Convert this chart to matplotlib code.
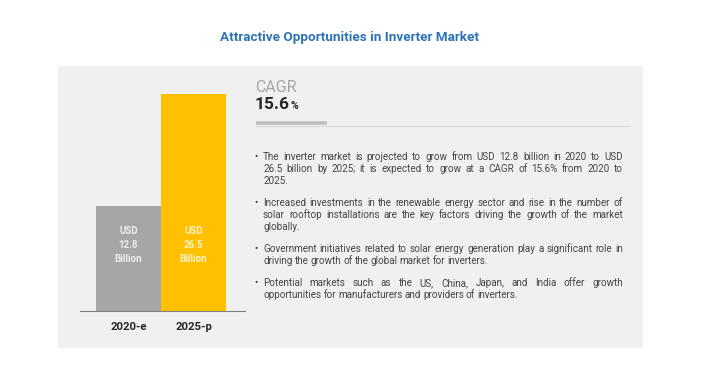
import matplotlib
matplotlib.use("Agg")
import matplotlib.pyplot as plt
from matplotlib.patches import Rectangle

# ---- data ----
categories = ["2020-e", "2025-p"]
values = [12.8, 26.5]
bar_colors = ["#a6a6a6", "#ffc000"]
bar_text_colors = ["#ececec", "#fff2cc"]
title = "Attractive Opportunities in Inverter Market"
cagr_label = "CAGR"
cagr_value = "15.6"
bullets = [
    ["The inverter market is projected to grow from USD 12.8 billion in 2020 to USD",
     "26.5 billion by 2025; it is expected to grow at a CAGR of 15.6% from 2020 to",
     "2025."],
    ["Increased investments in the renewable energy sector and rise in the number of",
     "solar rooftop installations are the key factors driving the growth of the market",
     "globally."],
    ["Government initiatives related to solar energy generation play a significant role in",
     "driving the growth of the global market for inverters."],
    ["Potential markets such as the US, China, Japan, and India offer growth",
     "opportunities for manufacturers and providers of inverters."],
]

W, H = 720, 390
fig = plt.figure(figsize=(W / 100, H / 100), dpi=100)
fig.patch.set_facecolor("white")

ov = fig.add_axes([0, 0, 1, 1])
ov.set_xlim(0, W)
ov.set_ylim(H, 0)
ov.axis("off")
ov.add_patch(Rectangle((58, 66), 585, 282, facecolor="#f0f0f0", edgecolor="none", zorder=0))

fig.canvas.draw()
r = fig.canvas.get_renderer()

ov.text(350, 38, title, ha="center", va="center", fontsize=9.7, fontweight="bold",
        color="#2e74b5", family="Roboto")

# CAGR block
ov.text(255, 88, cagr_label, ha="left", va="center", fontsize=11.5, color="#a6a6a6",
        family="Roboto")
t = ov.text(255, 109, cagr_value, ha="left", va="baseline", fontsize=12.5, fontweight="bold",
            color="#262626", family="Roboto")
bb = t.get_window_extent(r)
ov.text(bb.x1 + 0.5, 109, "%", ha="left", va="baseline", fontsize=7.5, fontweight="bold",
        color="#262626", family="Roboto")
ov.plot([256, 630], [126, 126], color="#d9d9d9", lw=0.9, solid_capstyle="butt", zorder=2)
ov.plot([256, 327], [122.5, 122.5], color="#bfbfbf", lw=2.6, solid_capstyle="butt", zorder=3)

# bullets, justified
fam = "Roboto"
x_left, x_right = 263, 623
span = x_right - x_left
probe_fs = 10.0
maxw = 0
for para in bullets:
    for line in para:
        p = ov.text(0, 0, line, fontsize=probe_fs, family=fam)
        maxw = max(maxw, p.get_window_extent(r).width)
        p.remove()
fs = probe_fs * span / maxw * 0.99
line_h = 12
y = 160
for para in bullets:
    ov.text(254, y, "\u2022", ha="left", va="baseline", fontsize=fs, color="#404040",
            family=fam)
    for i, line in enumerate(para):
        words = line.split(" ")
        last = i == len(para) - 1
        txts = [ov.text(0, y, w, ha="left", va="baseline", fontsize=fs, color="#454545",
                        family=fam) for w in words]
        widths = [tt.get_window_extent(r).width for tt in txts]
        if last or len(words) == 1:
            gap = fs * 0.3
        else:
            gap = (span - sum(widths)) / (len(words) - 1)
        x = x_left
        for tt, wd in zip(txts, widths):
            tt.set_x(x)
            x += wd + gap
        y += line_h
    y += 10

# bar chart
ax_left, ax_right = 80, 245
base_y = 311
ylim_top = 30.0
px_per_unit = (311 - 94) / values[1]
ax_h = ylim_top * px_per_unit
ax = fig.add_axes([ax_left / W, (H - base_y) / H, (ax_right - ax_left) / W, ax_h / H])
ax.set_facecolor("none")
xs = list(range(len(categories)))
ax.bar(xs, values, width=1.0, color=bar_colors, edgecolor="none", zorder=2)
ax.set_xlim(-0.746, 1.792)
ax.set_ylim(0, ylim_top)
for s in ["top", "right", "left"]:
    ax.spines[s].set_visible(False)
ax.spines["bottom"].set_color("#7f7f7f")
ax.spines["bottom"].set_linewidth(0.8)
ax.set_yticks([])
ax.set_xticks(xs)
ax.set_xticklabels(categories, fontsize=8.2, fontweight="bold", color="#262626",
                   family="Roboto")
ax.tick_params(axis="x", length=0, pad=8)
label_y = (base_y - 245) / px_per_unit
for xi, v, tc in zip(xs, values, bar_text_colors):
    ax.text(xi, label_y, f"USD\n{v}\nBillion", ha="center", va="center", fontsize=7,
            fontweight="bold", color=tc, linespacing=1.45, family="Roboto")

fig.savefig("out.png", dpi=100, facecolor="white")
